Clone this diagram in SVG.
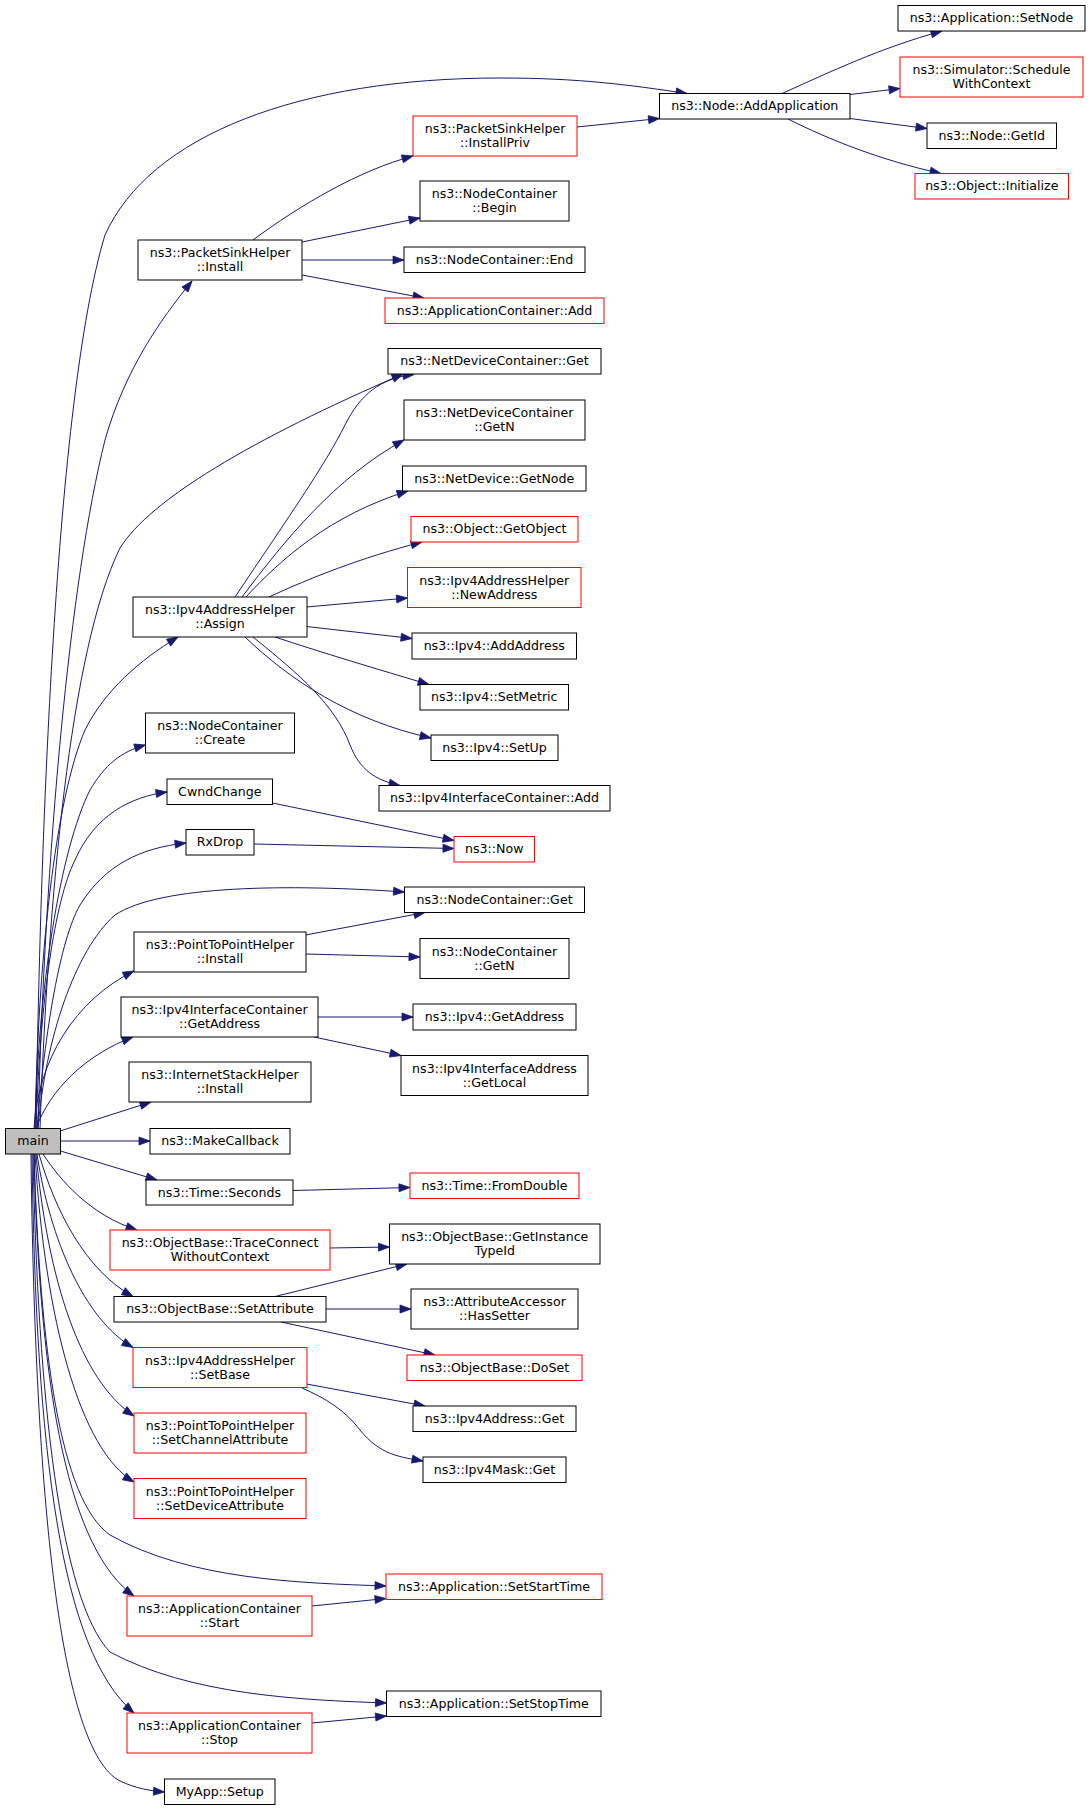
<svg xmlns="http://www.w3.org/2000/svg" width="1091" height="1811" viewBox="0 0 1091 1811">
<style>
.n rect{fill:#fff;stroke:#000;stroke-width:1}
.r rect{fill:#fff;stroke:#ff0000;stroke-width:1}
.m rect{fill:#bfbfbf;stroke:#000;stroke-width:1}
text{font-family:"DejaVu Sans","Liberation Sans",sans-serif;font-size:12.6px;fill:#000;text-anchor:middle}
#edges path{fill:none;stroke:#191970;stroke-width:1;marker-end:url(#ah)}
</style>
<defs>
<marker id="ah" markerWidth="12" markerHeight="9" refX="11" refY="4" orient="auto" markerUnits="userSpaceOnUse" overflow="visible">
<path d="M0,0 L11,4 L0,8 z" fill="#191970" stroke="#191970" stroke-width="0.8"/>
</marker>
</defs>
<rect width="1091" height="1811" fill="#fff"/>
<g id="edges">
<path d="M36,1128.5 C40,850 55,400 105,235 C150,135 300,78 500,78 C580,78 630,85 687,93.5"/>
<path d="M38,1128.5 C45,850 70,580 105,440 C125,370 160,320 192,281"/>
<path d="M40,1128.5 C48,900 70,650 120,548 C150,500 250,440 403,374"/>
<path d="M235,597 C290,515 325,465 345,425 C360,395 380,378 414,374.5"/>
<path d="M242,597 C285,540 335,478 404,440"/>
<path d="M246,597 C280,560 330,515 408,491"/>
<path d="M269,597 C310,578 360,558 422,542"/>
<path d="M306.5,607 L407.5,598"/>
<path d="M306.5,626.5 L412,638.5"/>
<path d="M275,637 C320,652 380,670 429,684.5"/>
<path d="M245,637 C290,680 350,720 431,738"/>
<path d="M253,637 C300,675 335,705 350,745 C360,770 375,780 400,785.5"/>
<path d="M35,1128.5 C38,960 55,800 85,730 C105,690 140,660 178,637"/>
<path d="M35,1128.5 C38,990 60,850 90,790 C105,765 120,752 145.5,745"/>
<path d="M36,1128.5 C40,1000 55,900 75,860 C95,815 130,797 167,792"/>
<path d="M37,1128.5 C45,1030 60,940 80,905 C105,865 140,848 186,843"/>
<path d="M38,1128.5 C45,1040 75,950 115,915 C160,885 290,884 404.5,892"/>
<path d="M34,1128.5 C38,1060 75,1000 134,971"/>
<path d="M36,1128.5 C50,1090 85,1055 133,1037"/>
<path d="M60,1131 L151,1102"/>
<path d="M60.5,1141 L150,1141"/>
<path d="M60.5,1151 L157,1180"/>
<path d="M43,1154 C60,1180 90,1215 137,1230"/>
<path d="M39,1154 C55,1210 85,1270 133,1296.5"/>
<path d="M37,1154 C50,1240 85,1320 133,1347.5"/>
<path d="M36,1154 C48,1280 80,1380 134,1416"/>
<path d="M35,1154 C45,1320 80,1450 134,1482"/>
<path d="M34,1154 C40,1350 60,1500 110,1535 C190,1580 300,1583 386,1586"/>
<path d="M34,1154 C40,1400 70,1550 134,1596"/>
<path d="M33,1154 C38,1400 60,1600 110,1652 C190,1695 300,1700 386.5,1703"/>
<path d="M32,1154 C36,1450 60,1650 134,1713"/>
<path d="M31,1154 C35,1500 60,1750 120,1781 C135,1788 150,1791 164.5,1792"/>
<path d="M253,240 C300,205 360,170 413,156"/>
<path d="M302,242 L420,218"/>
<path d="M302,260 L404,260"/>
<path d="M302,275 L424,298"/>
<path d="M577,127 L659.5,118.5"/>
<path d="M782,93.5 C830,72 880,48 942,31"/>
<path d="M850,94.5 L900,88.5"/>
<path d="M850,118.5 L927,128.5"/>
<path d="M788,119 C830,140 880,160 941,173.5"/>
<path d="M272.5,803 L454,840.5"/>
<path d="M254,844 L454,848.5"/>
<path d="M305.5,935 L425,912.5"/>
<path d="M305.5,954 L420,957"/>
<path d="M318,1017 L413,1017"/>
<path d="M314,1037 L401,1055.5"/>
<path d="M293,1190.5 L410,1187.5"/>
<path d="M330,1248 L389.5,1247"/>
<path d="M275,1296.5 L407,1264"/>
<path d="M326,1309 L411,1309"/>
<path d="M281,1322 L435,1355"/>
<path d="M306.5,1384 L425,1406"/>
<path d="M302,1388 C325,1398 345,1410 360,1430 C380,1455 400,1457 423,1461"/>
<path d="M312,1606 L386,1598.5"/>
<path d="M312,1723 L386.5,1716"/>
</g>
<g id="main" class="m"><rect x="5.5" y="1128.5" width="55" height="25.5"/><text x="33" y="1145.3">main</text></g>
<g id="psh_install" class="n"><rect x="138" y="240" width="164" height="40"/><text x="220" y="257">ns3::PacketSinkHelper</text><text x="220" y="271">::Install</text></g>
<g id="assign" class="n"><rect x="133" y="597" width="174" height="40"/><text x="220" y="614">ns3::Ipv4AddressHelper</text><text x="220" y="628">::Assign</text></g>
<g id="create" class="n"><rect x="145.5" y="713" width="149" height="40"/><text x="220" y="730">ns3::NodeContainer</text><text x="220" y="744">::Create</text></g>
<g id="cwnd" class="n"><rect x="167" y="779" width="105.5" height="25.5"/><text x="219.75" y="795.8">CwndChange</text></g>
<g id="rxdrop" class="n"><rect x="186" y="829.5" width="68" height="25.5"/><text x="220" y="846.3">RxDrop</text></g>
<g id="p2p_install" class="n"><rect x="134" y="932" width="172" height="40"/><text x="220" y="949">ns3::PointToPointHelper</text><text x="220" y="963">::Install</text></g>
<g id="ific_getaddr" class="n"><rect x="121" y="997" width="197" height="40"/><text x="219.5" y="1014">ns3::Ipv4InterfaceContainer</text><text x="219.5" y="1028">::GetAddress</text></g>
<g id="ish_install" class="n"><rect x="129" y="1062" width="182" height="40"/><text x="220" y="1079">ns3::InternetStackHelper</text><text x="220" y="1093">::Install</text></g>
<g id="makecb" class="n"><rect x="150" y="1128.5" width="140" height="25.5"/><text x="220" y="1145.3">ns3::MakeCallback</text></g>
<g id="seconds" class="n"><rect x="146" y="1180" width="147" height="25"/><text x="219.5" y="1196.6">ns3::Time::Seconds</text></g>
<g id="traceconn" class="r"><rect x="110" y="1230" width="220" height="40"/><text x="220" y="1247">ns3::ObjectBase::TraceConnect</text><text x="220" y="1261">WithoutContext</text></g>
<g id="setattr" class="n"><rect x="114" y="1296.5" width="212" height="25.5"/><text x="220" y="1313.3">ns3::ObjectBase::SetAttribute</text></g>
<g id="setbase" class="r"><rect x="133" y="1347.5" width="174" height="40"/><text x="220" y="1364.5">ns3::Ipv4AddressHelper</text><text x="220" y="1378.5">::SetBase</text></g>
<g id="setchan" class="r"><rect x="134" y="1413" width="172" height="40"/><text x="220" y="1430">ns3::PointToPointHelper</text><text x="220" y="1444">::SetChannelAttribute</text></g>
<g id="setdev" class="r"><rect x="134" y="1478.5" width="172" height="40"/><text x="220" y="1495.5">ns3::PointToPointHelper</text><text x="220" y="1509.5">::SetDeviceAttribute</text></g>
<g id="ac_start" class="r"><rect x="127" y="1596" width="185" height="40"/><text x="219.5" y="1613">ns3::ApplicationContainer</text><text x="219.5" y="1627">::Start</text></g>
<g id="ac_stop" class="r"><rect x="127" y="1713" width="185" height="40"/><text x="219.5" y="1730">ns3::ApplicationContainer</text><text x="219.5" y="1744">::Stop</text></g>
<g id="myapp_setup" class="n"><rect x="164.5" y="1779" width="110.5" height="25.5"/><text x="219.75" y="1795.8">MyApp::Setup</text></g>
<g id="installpriv" class="r"><rect x="413" y="116" width="164" height="40"/><text x="495" y="133">ns3::PacketSinkHelper</text><text x="495" y="147">::InstallPriv</text></g>
<g id="nc_begin" class="n"><rect x="420" y="181" width="149" height="40"/><text x="494.5" y="198">ns3::NodeContainer</text><text x="494.5" y="212">::Begin</text></g>
<g id="nc_end" class="n"><rect x="404" y="247" width="181" height="25.5"/><text x="494.5" y="263.8">ns3::NodeContainer::End</text></g>
<g id="ac_add" class="r"><rect x="385" y="298" width="219" height="25.5"/><text x="494.5" y="314.8">ns3::ApplicationContainer::Add</text></g>
<g id="ndc_get" class="n"><rect x="388" y="348.5" width="213" height="25.5"/><text x="494.5" y="365.3">ns3::NetDeviceContainer::Get</text></g>
<g id="ndc_getn" class="n"><rect x="404" y="400" width="181" height="40"/><text x="494.5" y="417">ns3::NetDeviceContainer</text><text x="494.5" y="431">::GetN</text></g>
<g id="nd_getnode" class="n"><rect x="402.5" y="466" width="183.5" height="25"/><text x="494.25" y="482.6">ns3::NetDevice::GetNode</text></g>
<g id="getobject" class="r"><rect x="411" y="516.5" width="167" height="25.5"/><text x="494.5" y="533.3">ns3::Object::GetObject</text></g>
<g id="newaddr" class="r"><rect x="407.5" y="567.5" width="173.5" height="40"/><text x="494.25" y="584.5">ns3::Ipv4AddressHelper</text><text x="494.25" y="598.5">::NewAddress</text></g>
<g id="addaddr" class="n"><rect x="412" y="633" width="164.5" height="26"/><text x="494.25" y="650.1">ns3::Ipv4::AddAddress</text></g>
<g id="setmetric" class="n"><rect x="420" y="684.5" width="148.5" height="25.5"/><text x="494.25" y="701.3">ns3::Ipv4::SetMetric</text></g>
<g id="ipv4_setup" class="n"><rect x="431" y="735" width="127" height="25.5"/><text x="494.5" y="751.8">ns3::Ipv4::SetUp</text></g>
<g id="ific_add" class="n"><rect x="379" y="785.5" width="231" height="25.5"/><text x="494.5" y="802.3">ns3::Ipv4InterfaceContainer::Add</text></g>
<g id="now" class="r"><rect x="454" y="836.5" width="80.5" height="25.5"/><text x="494.25" y="853.3">ns3::Now</text></g>
<g id="nc_get" class="n"><rect x="404.5" y="887" width="180" height="25.5"/><text x="494.5" y="903.8">ns3::NodeContainer::Get</text></g>
<g id="nc_getn" class="n"><rect x="420" y="938.5" width="149" height="40"/><text x="494.5" y="955.5">ns3::NodeContainer</text><text x="494.5" y="969.5">::GetN</text></g>
<g id="ipv4_getaddr" class="n"><rect x="413" y="1004" width="163" height="26"/><text x="494.5" y="1021.1">ns3::Ipv4::GetAddress</text></g>
<g id="getlocal" class="n"><rect x="401" y="1055.5" width="187" height="40"/><text x="494.5" y="1072.5">ns3::Ipv4InterfaceAddress</text><text x="494.5" y="1086.5">::GetLocal</text></g>
<g id="fromdouble" class="r"><rect x="410" y="1173" width="169" height="25.5"/><text x="494.5" y="1189.8">ns3::Time::FromDouble</text></g>
<g id="getinst" class="n"><rect x="389.5" y="1224" width="210.5" height="40"/><text x="494.75" y="1241">ns3::ObjectBase::GetInstance</text><text x="494.75" y="1255">TypeId</text></g>
<g id="hassetter" class="n"><rect x="411" y="1289" width="167" height="40"/><text x="494.5" y="1306">ns3::AttributeAccessor</text><text x="494.5" y="1320">::HasSetter</text></g>
<g id="doset" class="r"><rect x="407" y="1355" width="175" height="25.5"/><text x="494.5" y="1371.8">ns3::ObjectBase::DoSet</text></g>
<g id="ipv4addr_get" class="n"><rect x="413" y="1406" width="163" height="25.5"/><text x="494.5" y="1422.8">ns3::Ipv4Address::Get</text></g>
<g id="mask_get" class="n"><rect x="423" y="1457" width="143" height="25.5"/><text x="494.5" y="1473.8">ns3::Ipv4Mask::Get</text></g>
<g id="setstart" class="r"><rect x="386" y="1574" width="216" height="25.5"/><text x="494" y="1590.8">ns3::Application::SetStartTime</text></g>
<g id="setstop" class="n"><rect x="386.5" y="1691" width="214.5" height="25.5"/><text x="493.75" y="1707.8">ns3::Application::SetStopTime</text></g>
<g id="addapp" class="n"><rect x="659.5" y="93.5" width="190.5" height="25.5"/><text x="754.75" y="110.3">ns3::Node::AddApplication</text></g>
<g id="setnode" class="n"><rect x="898" y="5.5" width="187" height="25.5"/><text x="991.5" y="22.3">ns3::Application::SetNode</text></g>
<g id="schedule" class="r"><rect x="900" y="57" width="183" height="40"/><text x="991.5" y="74">ns3::Simulator::Schedule</text><text x="991.5" y="88">WithContext</text></g>
<g id="getid" class="n"><rect x="927" y="123" width="129.5" height="25.5"/><text x="991.75" y="139.8">ns3::Node::GetId</text></g>
<g id="initialize" class="r"><rect x="915" y="173.5" width="153.5" height="25.5"/><text x="991.75" y="190.3">ns3::Object::Initialize</text></g>
</svg>
